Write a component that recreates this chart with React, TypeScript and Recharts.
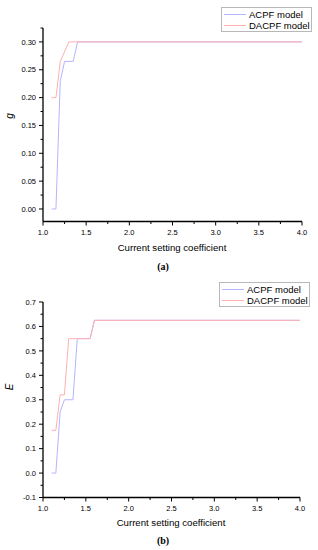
import React from 'react';
import { LineChart, Line, XAxis, YAxis, Legend, Label } from 'recharts';

// ---- tick values ----
const X_TICKS = [1.0, 1.25, 1.5, 1.75, 2.0, 2.25, 2.5, 2.75, 3.0, 3.25, 3.5, 3.75, 4.0];
const A_Y_TICKS = [0, 0.025, 0.05, 0.075, 0.1, 0.125, 0.15, 0.175, 0.2, 0.225, 0.25, 0.275, 0.3, 0.325];
const B_Y_TICKS = [-0.1, -0.05, 0, 0.05, 0.1, 0.15, 0.2, 0.25, 0.3, 0.35, 0.4, 0.45, 0.5, 0.55, 0.6, 0.65, 0.7];

// ---- chart (a): g ----
const A_ACPF_X = [1.1, 1.15, 1.2, 1.25, 1.35, 1.4, 4.0];
const A_ACPF_Y = [0, 0, 0.23, 0.265, 0.265, 0.3, 0.3];
const A_DACPF_X = [1.1, 1.15, 1.2, 1.3, 4.0];
const A_DACPF_Y = [0.2, 0.2, 0.265, 0.3, 0.3];

// ---- chart (b): E ----
const B_ACPF_X = [1.1, 1.15, 1.2, 1.25, 1.35, 1.4, 1.55, 1.6, 4.0];
const B_ACPF_Y = [0, 0, 0.25, 0.3, 0.3, 0.55, 0.55, 0.625, 0.625];
const B_DACPF_X = [1.1, 1.15, 1.2, 1.25, 1.3, 1.55, 1.6, 4.0];
const B_DACPF_Y = [0.175, 0.175, 0.32, 0.32, 0.55, 0.55, 0.625, 0.625];

const SERIES_ORDER = ['ACPF model', 'DACPF model'];

const zip = (xs: number[], ys: number[]) => xs.map((x, i) => ({ x, y: ys[i] }));

const FONT = '"Liberation Sans", Arial, sans-serif';
const BLUE = '#b4b4ff';
const RED = '#ffb0b0';

const isMajor = (v: number, step: number) => Math.abs(v / step - Math.round(v / step)) < 1e-6;

const XTick = (props: any) => {
  const { x, y, payload } = props;
  const v = payload.value as number;
  const major = isMajor(v, 0.5);
  return (
    <g>
      <line x1={x} y1={y} x2={x} y2={y + (major ? 4 : 2.5)} stroke="#000" strokeWidth={1} />
      {major && (
        <text x={x} y={y + 13} textAnchor="middle" fontSize={7.5} fontFamily={FONT} fill="#000">
          {v.toFixed(1)}
        </text>
      )}
    </g>
  );
};

const makeYTick = (step: number, digits: number) => (props: any) => {
  const { x, y, payload } = props;
  const v = payload.value as number;
  const major = isMajor(v, step);
  return (
    <g>
      <line x1={x} y1={y} x2={x - (major ? 4 : 2.5)} y2={y} stroke="#000" strokeWidth={1} />
      {major && (
        <text x={x - 7} y={y + 2.7} textAnchor="end" fontSize={7.5} fontFamily={FONT} fill="#000">
          {v.toFixed(digits)}
        </text>
      )}
    </g>
  );
};

const YTickA = makeYTick(0.05, 2);
const YTickB = makeYTick(0.1, 1);

const LegendBox = (props: any) => {
  const payload = [...(props.payload || [])].sort(
    (a: any, b: any) => SERIES_ORDER.indexOf(a.value) - SERIES_ORDER.indexOf(b.value)
  );
  return (
    <div
      style={{
        border: '1px solid #b8b8b8',
        background: '#fff',
        boxSizing: 'border-box',
        width: 91,
        height: 25,
        padding: '1px 0 0 2px',
        fontFamily: FONT,
        fontSize: 9.5,
        lineHeight: '11px',
        color: '#000',
      }}
    >
      {payload.map((e: any) => (
        <div key={e.value} style={{ display: 'flex', alignItems: 'center', whiteSpace: 'nowrap' }}>
          <span style={{ display: 'inline-block', width: 22, height: 1, background: e.color, marginRight: 3 }} />
          <span>{e.value}</span>
        </div>
      ))}
    </div>
  );
};

const axisLine = { stroke: '#000', strokeWidth: 1.3 };

export default function App() {
  return (
    <div style={{ position: 'absolute', left: 0, top: 0, width: 318, height: 550, background: '#fff', fontFamily: FONT }}>
      <div style={{ position: 'absolute', left: 0, top: 0 }}>
        <LineChart width={318} height={275} margin={{ top: 28, right: 16, bottom: 0, left: 0 }}>
          <XAxis
            dataKey="x"
            type="number"
            domain={[1, 4]}
            ticks={X_TICKS}
            interval={0}
            tickSize={0}
            tickMargin={0}
            tickLine={false}
            axisLine={axisLine}
            tick={<XTick />}
            height={53.5}
            allowDuplicatedCategory={false}
          >
            <Label
              content={() => (
                <g>
                  <text x={172} y={251} textAnchor="middle" fontSize={9.6} fontFamily={FONT} fill="#000">
                    Current setting coefficient
                  </text>
                  <text x={163} y={270} textAnchor="middle" fontSize={10} fontWeight="bold" fontFamily='"Liberation Serif", serif' fill="#000">
                    (a)
                  </text>
                </g>
              )}
            />
          </XAxis>
          <YAxis
            type="number"
            domain={[-0.0225, 0.325]}
            ticks={A_Y_TICKS}
            interval={0}
            allowDataOverflow
            width={43}
            tickSize={0}
            tickMargin={0}
            tickLine={false}
            axisLine={axisLine}
            tick={<YTickA />}
          >
            <Label
              content={() => (
                <text x={13} y={116} transform="rotate(-90 13 116)" textAnchor="middle" fontSize={10} fontStyle="italic" fontFamily={FONT} fill="#000">
                  g
                </text>
              )}
            />
          </YAxis>
          <Legend
            layout="vertical"
            align="center"
            verticalAlign="middle"
            wrapperStyle={{ left: 221, top: 7, width: 91, height: 25 }}
            content={<LegendBox />}
          />
          <Line data={zip(A_ACPF_X, A_ACPF_Y)} dataKey="y" name="ACPF model" type="linear" stroke={BLUE} strokeWidth={1} dot={false} isAnimationActive={false} />
          <Line data={zip(A_DACPF_X, A_DACPF_Y)} dataKey="y" name="DACPF model" type="linear" stroke={RED} strokeWidth={1} dot={false} isAnimationActive={false} />
        </LineChart>
      </div>
      <div style={{ position: 'absolute', left: 0, top: 275 }}>
        <LineChart width={318} height={275} margin={{ top: 27, right: 18, bottom: 0, left: 0 }}>
          <XAxis
            dataKey="x"
            type="number"
            domain={[1, 4]}
            ticks={X_TICKS}
            interval={0}
            tickSize={0}
            tickMargin={0}
            tickLine={false}
            axisLine={axisLine}
            tick={<XTick />}
            height={52.5}
            allowDuplicatedCategory={false}
          >
            <Label
              content={() => (
                <g>
                  <text x={171} y={251} textAnchor="middle" fontSize={9.6} fontFamily={FONT} fill="#000">
                    Current setting coefficient
                  </text>
                  <text x={163} y={268.5} textAnchor="middle" fontSize={10} fontWeight="bold" fontFamily='"Liberation Serif", serif' fill="#000">
                    (b)
                  </text>
                </g>
              )}
            />
          </XAxis>
          <YAxis
            type="number"
            domain={[-0.1, 0.7]}
            ticks={B_Y_TICKS}
            interval={0}
            allowDataOverflow
            width={43}
            tickSize={0}
            tickMargin={0}
            tickLine={false}
            axisLine={axisLine}
            tick={<YTickB />}
          >
            <Label
              content={() => (
                <text x={13} y={112} transform="rotate(-90 13 112)" textAnchor="middle" fontSize={10} fontStyle="italic" fontFamily={FONT} fill="#000">
                  E
                </text>
              )}
            />
          </YAxis>
          <Legend
            layout="vertical"
            align="center"
            verticalAlign="middle"
            wrapperStyle={{ left: 219, top: 7, width: 91, height: 25 }}
            content={<LegendBox />}
          />
          <Line data={zip(B_ACPF_X, B_ACPF_Y)} dataKey="y" name="ACPF model" type="linear" stroke={BLUE} strokeWidth={1} dot={false} isAnimationActive={false} />
          <Line data={zip(B_DACPF_X, B_DACPF_Y)} dataKey="y" name="DACPF model" type="linear" stroke={RED} strokeWidth={1} dot={false} isAnimationActive={false} />
        </LineChart>
      </div>
    </div>
  );
}
